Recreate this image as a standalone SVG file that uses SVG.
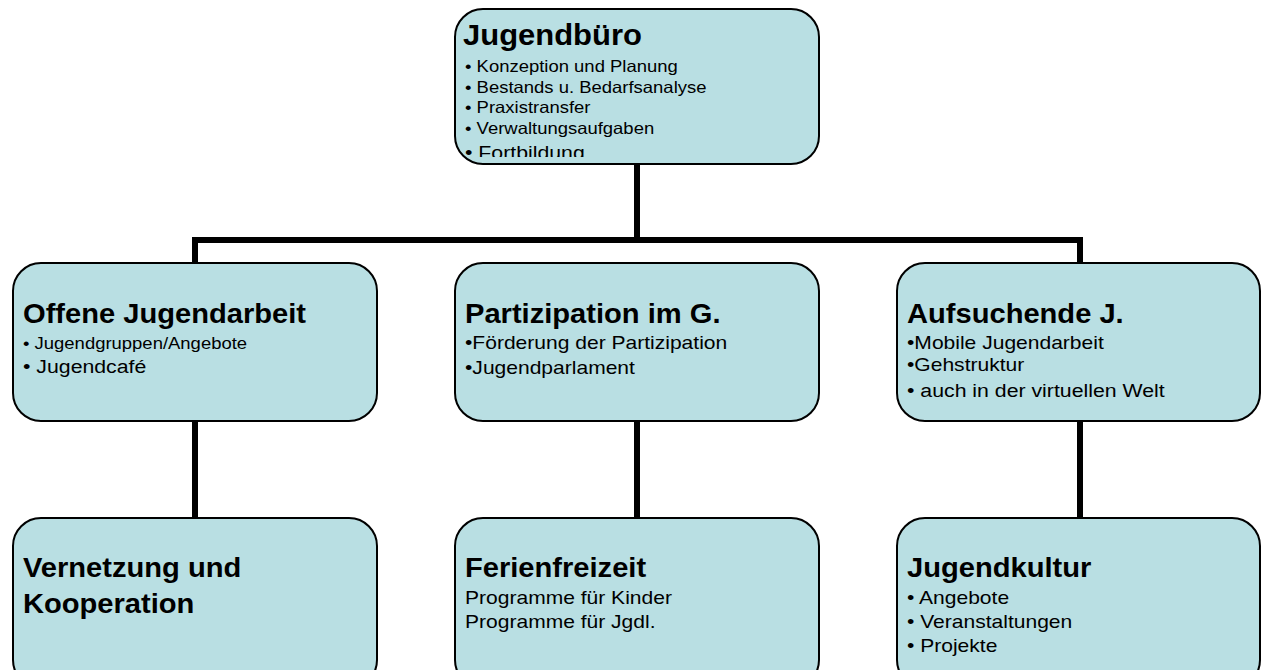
<svg xmlns="http://www.w3.org/2000/svg" width="1263" height="670" viewBox="0 0 1263 670">
<style>
text{font-family:"Liberation Sans",Arial,sans-serif;fill:#000}
.box{fill:#B9DFE3;stroke:#000;stroke-width:2}
.t{font-weight:bold;font-size:28px}
.tb{font-weight:bold;font-size:29.5px}
.b{font-size:16.5px}
.bl{font-size:19px}
.bm{font-size:18.8px}
.conn{fill:none;stroke:#000;stroke-width:6;stroke-linecap:butt;stroke-linejoin:miter}
</style>
<defs>
<clipPath id="clipTop"><rect x="450" y="5" width="375" height="152"/></clipPath>
</defs>
<rect width="1263" height="670" fill="#fff"/>
<g id="connectors">
<path class="conn" d="M637 164V240M195 263V240H1080V263"/>
<path class="conn" d="M195 421V518"/>
<path class="conn" d="M637 421V518"/>
<path class="conn" d="M1080 421V518"/>
</g>
<g id="jugendbuero">
<rect class="box" x="455" y="9" width="364" height="155" rx="28"/>
<g clip-path="url(#clipTop)">
<text class="tb" transform="translate(463,45) scale(1.05,1)">Jugendbüro</text>
<text class="b" transform="translate(465,72) scale(1.12,1)">• Konzeption und Planung</text>
<text class="b" transform="translate(465,93) scale(1.12,1)">• Bestands u. Bedarfsanalyse</text>
<text class="b" transform="translate(465,113) scale(1.12,1)">• Praxistransfer</text>
<text class="b" transform="translate(465,134) scale(1.12,1)">• Verwaltungsaufgaben</text>
<text class="bl" transform="translate(465,159) scale(1.12,1)">• Fortbildung</text>
</g>
</g>
<g id="offene">
<rect class="box" x="13" y="263" width="364" height="158" rx="28"/>
<text class="t" transform="translate(23,323) scale(1.04,1)">Offene Jugendarbeit</text>
<text class="b" transform="translate(23,349) scale(1.12,1)">• Jugendgruppen/Angebote</text>
<text class="bl" transform="translate(23,373) scale(1.12,1)">• Jugendcafé</text>
</g>
<g id="partizipation">
<rect class="box" x="455" y="263" width="364" height="158" rx="28"/>
<text class="t" transform="translate(465,323) scale(1.04,1)">Partizipation im G.</text>
<text class="bm" transform="translate(465,349) scale(1.12,1)">•Förderung der Partizipation</text>
<text class="bm" transform="translate(465,374) scale(1.12,1)">•Jugendparlament</text>
</g>
<g id="aufsuchende">
<rect class="box" x="897" y="263" width="363" height="158" rx="28"/>
<text class="t" transform="translate(907,323) scale(1.04,1)">Aufsuchende J.</text>
<text class="bm" transform="translate(907,349) scale(1.12,1)">•Mobile Jugendarbeit</text>
<text class="bm" transform="translate(907,371) scale(1.12,1)">•Gehstruktur</text>
<text class="bl" transform="translate(907,397) scale(1.12,1)">• auch in der virtuellen Welt</text>
</g>
<g id="vernetzung">
<rect class="box" x="13" y="518" width="364" height="170" rx="28"/>
<text class="t" transform="translate(23,577) scale(1.04,1)">Vernetzung und</text>
<text class="t" transform="translate(23,613) scale(1.04,1)">Kooperation</text>
</g>
<g id="ferienfreizeit">
<rect class="box" x="455" y="518" width="364" height="170" rx="28"/>
<text class="t" transform="translate(465,577) scale(1.04,1)">Ferienfreizeit</text>
<text class="bm" transform="translate(465,604) scale(1.12,1)">Programme für Kinder</text>
<text class="bm" transform="translate(465,628) scale(1.12,1)">Programme für Jgdl.</text>
</g>
<g id="jugendkultur">
<rect class="box" x="897" y="518" width="363" height="170" rx="28"/>
<text class="t" transform="translate(907,577) scale(1.04,1)">Jugendkultur</text>
<text class="bm" transform="translate(907,604) scale(1.12,1)">• Angebote</text>
<text class="bm" transform="translate(907,628) scale(1.12,1)">• Veranstaltungen</text>
<text class="bm" transform="translate(907,652) scale(1.12,1)">• Projekte</text>
</g>
</svg>
